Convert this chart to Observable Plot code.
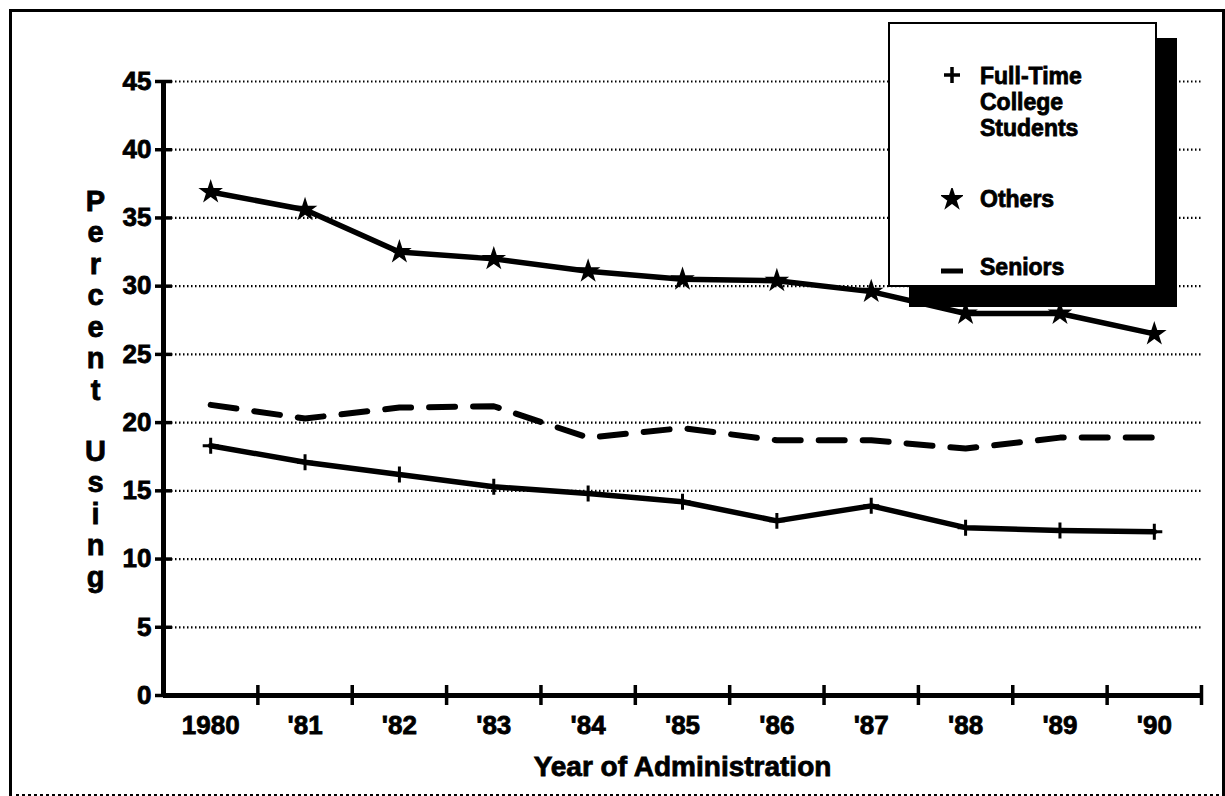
<!DOCTYPE html>
<html>
<head>
<meta charset="utf-8">
<script src="https://cdn.jsdelivr.net/npm/d3@7"></script>
<script src="https://cdn.jsdelivr.net/npm/@observablehq/plot@0.6"></script>
<style>
  html, body { margin: 0; padding: 0; background: #fff; }
  #wrap { position: relative; width: 1225px; height: 796px; overflow: hidden;
          font-family: "Liberation Sans", Arial, Helvetica, sans-serif; font-weight: bold; }
  #chart svg text { stroke: #000; stroke-width: 0.8px; }
  #frame { position: absolute; left: 9px; top: 9px; width: 1210px; height: 782px;
           border-top: 3px solid #000; border-left: 3px solid #000; border-right: 3px solid #000;
           border-bottom: 3px dotted #000; pointer-events: none; }
  #shadow { position: absolute; left: 909px; top: 38px; width: 268px; height: 269px; background: #000; }
  #legend { position: absolute; left: 888px; top: 22px; width: 265px; height: 261px;
            background: #fff; border: 2px solid #000; }
  .li { position: absolute; left: 90px; font-size: 23px; line-height: 26px; color: #000;
        -webkit-text-stroke: 0.8px #000; white-space: nowrap; }
  .lm { position: absolute; left: 52px; }
</style>
</head>
<body>
<div id="wrap">
  <div id="chart"></div>
  <div id="frame"></div>
  <div id="shadow"></div>
  <div id="legend"></div>
</div>
<script>
// ---- data ----
const years = [1980, 1981, 1982, 1983, 1984, 1985, 1986, 1987, 1988, 1989, 1990];
const yearLabels = ["1980", "'81", "'82", "'83", "'84", "'85", "'86", "'87", "'88", "'89", "'90"];
const fullTime = [18.3, 17.1, 16.2, 15.3, 14.8, 14.2, 12.8, 13.9, 12.3, 12.1, 12.0];
const others   = [36.9, 35.6, 32.5, 32.0, 31.1, 30.5, 30.4, 29.6, 28.0, 28.0, 26.5];
const seniors  = [21.3, 20.3, 21.1, 21.2, 18.9, 19.6, 18.7, 18.7, 18.1, 18.9, 18.9];
const yTicks = [0, 5, 10, 15, 20, 25, 30, 35, 40, 45];
const gridTicks = [5, 10, 15, 20, 25, 30, 35, 40, 45];
const seriesNames = ["Full-Time\nCollege\nStudents", "Others", "Seniors"];
const xTitle = "Year of Administration";
const yTitleTop = "P\ne\nr\nc\ne\nn\nt";
const yTitleBottom = "U\ns\ni\nn\ng";

const table = years.map((yr, i) => ({year: yr, ft: fullTime[i], ot: others[i], sn: seniors[i]}));
const bounds = years.map(y => y + 0.5);  // category boundaries for x ticks
const x0 = years[0] - 0.5;

const font = "Liberation Sans, Arial, Helvetica, sans-serif";

const chart = Plot.plot({
  width: 1225,
  height: 796,
  marginLeft: 163,
  marginRight: 24,
  marginTop: 81,
  marginBottom: 101,
  x: {domain: [x0, years[years.length - 1] + 0.5]},
  y: {domain: [0, 45]},
  style: {fontFamily: font, fontWeight: "bold", background: "transparent", color: "#000"},
  marks: [
    // dotted gridlines
    Plot.ruleY(gridTicks, {stroke: "#000", strokeWidth: 2.2, strokeDasharray: "1.5,2.5"}),
    // axes lines
    Plot.ruleX([x0], {y1: 0, y2: 45, stroke: "#000", strokeWidth: 5}),
    Plot.ruleY([0], {stroke: "#000", strokeWidth: 5}),
    // y ticks crossing axis
    Plot.ruleY(yTicks, {x1: x0, x2: x0, insetLeft: -8, insetRight: -9, stroke: "#000", strokeWidth: 3.5}),
    // x ticks at category boundaries
    Plot.ruleX(bounds, {y1: 0, y2: 0, insetTop: -10, insetBottom: -10, stroke: "#000", strokeWidth: 3.5}),
    Plot.axisY(yTicks, {tickSize: 0, tickPadding: 12, fontSize: 26, fontWeight: "bold", label: null}),
    Plot.axisX(years, {tickSize: 0, tickPadding: 20, fontSize: 26, fontWeight: "bold", label: null,
                       tickFormat: d => yearLabels[years.indexOf(d)]}),
    Plot.text([xTitle], {frameAnchor: "bottom", lineAnchor: "top", dy: 61, fontSize: 28, fontWeight: "bold"}),
    Plot.text([yTitleTop], {frameAnchor: "top-left", textAnchor: "middle", lineAnchor: "top",
                            dx: -68, dy: 107, fontSize: 29, lineHeight: 1.087, fontWeight: "bold"}),
    Plot.text([yTitleBottom], {frameAnchor: "top-left", textAnchor: "middle", lineAnchor: "top",
                               dx: -68, dy: 357, fontSize: 29, lineHeight: 1.087, fontWeight: "bold"}),
    // Seniors: dashed
    Plot.line(table, {x: "year", y: "sn", stroke: "#000", strokeWidth: 6, strokeDasharray: "26,18"}),
    // Full-Time college students
    Plot.line(table, {x: "year", y: "ft", stroke: "#000", strokeWidth: 5.5}),
    Plot.dot(table, {x: "year", y: "ft", symbol: "plus", r: 5.2, stroke: "#000", strokeWidth: 3}),
    // Others
    Plot.line(table, {x: "year", y: "ot", stroke: "#000", strokeWidth: 5.5}),
    Plot.dot(table, {x: "year", y: "ot", symbol: "star", r: 5.8, fill: "#000", stroke: "#000", strokeWidth: 2})
  ]
});
document.getElementById("chart").appendChild(chart);

// ---- legend ----
const legend = document.getElementById("legend");
const plusSvg = '<svg width="20" height="20"><path d="M10 2V18M2 10H18" stroke="#000" stroke-width="3.5"/></svg>';
const starSvg = '<svg width="22" height="22"><path d="' +
  d3.symbol(d3.symbolStar, 110)() + '" transform="translate(11,11)" fill="#000" stroke="#000" stroke-width="2"/></svg>';
const dashSvg = '<svg width="24" height="10"><path d="M1 5H23" stroke="#000" stroke-width="5"/></svg>';
const items = [
  {name: seriesNames[0], top: 39, marker: plusSvg, mTop: 41, mLeft: 52},
  {name: seriesNames[1], top: 162, marker: starSvg, mTop: 164, mLeft: 51},
  {name: seriesNames[2], top: 230, marker: dashSvg, mTop: 238, mLeft: 50}
];
items.forEach(it => {
  it.name.split("\n").forEach((line, k) => {
    const t = document.createElement("div");
    t.className = "li";
    t.style.top = (it.top + k * 26) + "px";
    t.textContent = line;
    legend.appendChild(t);
  });
  const m = document.createElement("div");
  m.className = "lm";
  m.style.top = it.mTop + "px";
  m.style.left = it.mLeft + "px";
  m.innerHTML = it.marker;
  legend.appendChild(m);
});
</script>
</body>
</html>
